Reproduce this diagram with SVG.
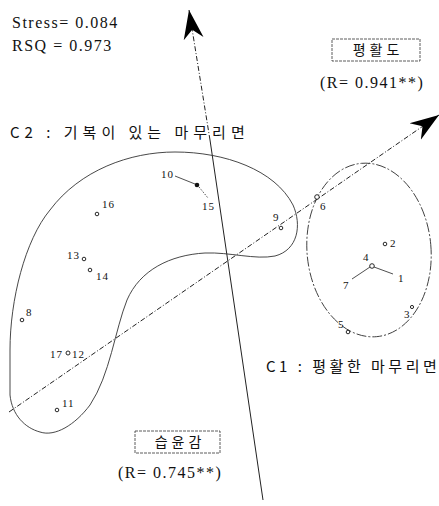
<svg xmlns="http://www.w3.org/2000/svg" width="439" height="506" viewBox="0 0 439 506">
<style>
.t{font-family:"Liberation Serif","Noto Sans CJK KR",serif;fill:#111}
.big{font-size:16px;letter-spacing:1.5px}
.ko{font-family:"Noto Sans CJK KR","Liberation Serif",serif;fill:#111}
.lbl{font-family:"Liberation Serif",serif;font-size:11px;fill:#111;letter-spacing:1px}
.pt{fill:#fff;stroke:#111;stroke-width:0.9}
.clu{fill:none;stroke:#333;stroke-width:0.9}
.box{fill:none;stroke:#333;stroke-width:0.8;stroke-dasharray:3 1}
.ax{fill:none;stroke:#222;stroke-width:1}
.dash{stroke-dasharray:5 2 1 2}
.thin{fill:none;stroke:#222;stroke-width:0.8}
</style>
<defs>
<marker id="arr" viewBox="-29 -11 30 22" refX="0" refY="0" markerWidth="30" markerHeight="22" orient="auto" markerUnits="userSpaceOnUse">
<path d="M0,0 L-29,-10 L-20,0 L-29,10 Z" fill="#000"/>
</marker>
</defs>
<rect width="439" height="506" fill="#fff"/>

<g id="fit">
<text class="t big" x="12" y="28" font-size="17">Stress= 0.084</text>
<text class="t big" x="12" y="51" font-size="17">RSQ  = 0.973</text>
</g>

<g id="connectors">
<path class="ax dash" d="M210,140 L189,10" marker-end="url(#arr)"/>
<path class="ax" d="M263,500 L210,140"/>
<path class="ax dash" d="M9,412 L439,115" marker-end="url(#arr)"/>
</g>

<g id="C2">
<path class="clu" d="M10,350 C10,300 25,240 50,210 C80,170 130,152 175,152 C225,152 275,170 293,205 C302,225 298,250 275,256 C255,260 230,252 205,253 C170,255 140,270 127,300 C115,330 110,375 90,405 C75,425 55,437 40,432 C25,428 12,415 10,395 Z"/>
<text class="ko" x="10" y="138" font-size="15" letter-spacing="5">C2 : 기복이 있는  마무리면</text>
</g>

<g id="C1">
<ellipse class="clu" cx="369" cy="250" rx="62" ry="87" transform="rotate(-5 369 250)" stroke-dasharray="10 2 2 2"/>
<text class="ko" x="266" y="372" font-size="15" letter-spacing="3.5">C1 : 평활한 마무리면</text>
</g>

<g id="axis-smooth">
<rect class="box" x="332" y="39" width="88" height="22"/>
<text class="ko" x="378" y="55" font-size="14" text-anchor="middle" letter-spacing="4">평활도</text>
<text class="t big" x="320" y="88" font-size="16">(R= 0.941**)</text>
</g>

<g id="axis-moist">
<rect class="box" x="135" y="431" width="85" height="22"/>
<text class="ko" x="180" y="447" font-size="14" text-anchor="middle" letter-spacing="4">습윤감</text>
<text class="t big" x="118" y="478" font-size="16">(R= 0.745**)</text>
</g>

<g id="p10">
<line class="thin" x1="175" y1="176" x2="195" y2="184"/>
<circle cx="197" cy="185" r="2.3" fill="#111"/>
<text class="lbl" x="161" y="178">10</text>
</g>
<g id="p15">
<line class="thin" x1="199" y1="187" x2="208" y2="198" stroke-dasharray="1.5 1.5"/>
<text class="lbl" x="202" y="210">15</text>
</g>
<g id="p16"><circle class="pt" cx="97" cy="214" r="1.8"/><text class="lbl" x="102" y="208">16</text></g>
<g id="p13"><text class="lbl" x="67" y="259">13</text><circle class="pt" cx="84" cy="259" r="1.8"/></g>
<g id="p14"><circle class="pt" cx="90" cy="270" r="1.8"/><text class="lbl" x="96" y="280">14</text></g>
<g id="p8"><circle class="pt" cx="22" cy="320" r="1.8"/><text class="lbl" x="26" y="316">8</text></g>
<g id="p17"><text class="lbl" x="50" y="358">17</text></g>
<g id="p12"><circle class="pt" cx="68" cy="353" r="2"/><text class="lbl" x="72" y="358">12</text></g>
<g id="p11"><circle class="pt" cx="57" cy="410" r="1.8"/><text class="lbl" x="62" y="407">11</text></g>
<g id="p9"><text class="lbl" x="273" y="221">9</text><circle class="pt" cx="281" cy="228" r="1.8"/></g>
<g id="p6"><circle class="pt" cx="317" cy="197" r="2.3"/><text class="lbl" x="320" y="210">6</text></g>
<g id="p2"><circle class="pt" cx="385" cy="244" r="1.8"/><text class="lbl" x="390" y="247">2</text></g>
<g id="p4"><text class="lbl" x="363" y="261">4</text><circle class="pt" cx="372" cy="266" r="2.3"/></g>
<g id="p1"><line class="thin" x1="374" y1="267" x2="393" y2="274"/><text class="lbl" x="398" y="282">1</text></g>
<g id="p7"><line class="thin" x1="370" y1="267" x2="352" y2="279"/><text class="lbl" x="343" y="289">7</text></g>
<g id="p5"><text class="lbl" x="338" y="328">5</text><circle class="pt" cx="348" cy="332" r="1.8"/></g>
<g id="p3"><text class="lbl" x="404" y="318">3</text><circle class="pt" cx="412" cy="307" r="1.6"/></g>
</svg>
